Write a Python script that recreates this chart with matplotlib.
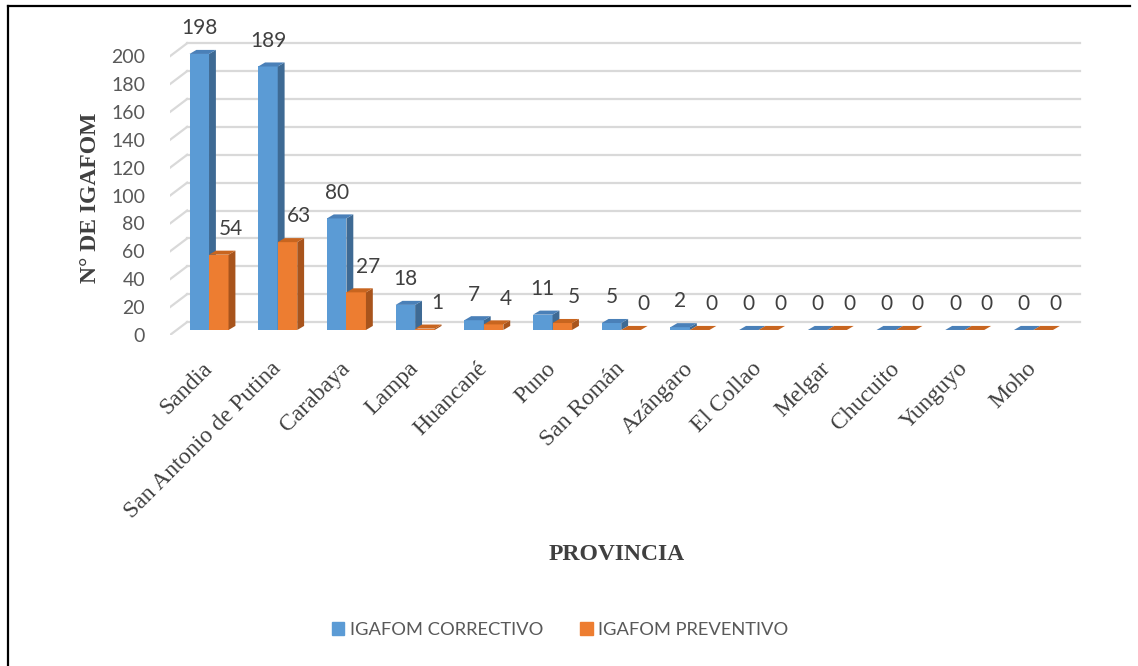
import matplotlib.pyplot as plt
from matplotlib.patches import Polygon, Patch
from matplotlib.lines import Line2D

provincias = ['Sandia', 'San Antonio de Putina', 'Carabaya', 'Lampa', 'Huancané',
              'Puno', 'San Román', 'Azángaro', 'El Collao', 'Melgar', 'Chucuito',
              'Yunguyo', 'Moho']
correctivo = [198, 189, 80, 18, 7, 11, 5, 2, 0, 0, 0, 0, 0]
preventivo = [54, 63, 27, 1, 4, 5, 0, 0, 0, 0, 0, 0, 0]
yticks = list(range(0, 201, 20))

# colores (front, lado, tapa)
azul = ('#5b9bd5', '#3e6a94', '#4a80b8')
naranja = ('#ed7d31', '#a8541c', '#c8651f')

W = 0.284        # ancho de barra
BAR_DY = 3.6     # profundidad de la cara frontal
SIDE_DX = 0.10   # lado 3D
TOP_DY = 2.9
WALL_DX = 0.25   # pared del fondo
WALL_DY = 9.3

fig = plt.figure(figsize=(11.38, 6.66), dpi=100)
ax = fig.add_axes([170 / 1138, 1 - 335 / 666, (1085 - 170) / 1138, (335 - 28.3) / 666])
ax.set_xlim(-0.568, 12.75)
ax.set_ylim(0, 220)
for s in ax.spines.values():
    s.set_visible(False)

# rejilla de la pared del fondo
x0, x1 = ax.get_xlim()[0], 12.68
for v in yticks:
    ax.plot([x0 + WALL_DX, x1], [v + WALL_DY, v + WALL_DY], color='#d9d9d9', lw=1.6, zorder=1)
    ax.plot([x0, x0 + WALL_DX], [v, v + WALL_DY], color='#d9d9d9', lw=1.6, zorder=1)


def barra3d(xl, val, cols):
    xr = xl + W
    b, t = BAR_DY, BAR_DY + val
    ax.bar(xl, val, width=W, bottom=b, align='edge', color=cols[0], zorder=3)
    ax.add_patch(Polygon([(xr, b), (xr + SIDE_DX, b + TOP_DY), (xr + SIDE_DX, t + TOP_DY), (xr, t)],
                         closed=True, facecolor=cols[1], edgecolor='none', zorder=3))
    ax.add_patch(Polygon([(xl, t), (xl + SIDE_DX, t + TOP_DY), (xr + SIDE_DX, t + TOP_DY), (xr, t)],
                         closed=True, facecolor=cols[2], edgecolor='none', zorder=3))


for i in range(len(provincias)):
    barra3d(i - W, correctivo[i], azul)
    barra3d(i, preventivo[i], naranja)
    ax.annotate(str(correctivo[i]), (i - W / 2, correctivo[i] + BAR_DY), xytext=(0, 18.5),
                textcoords='offset points', ha='center', va='center',
                fontsize=15, family='Lato', color='#404040', zorder=5)
    ax.annotate(str(preventivo[i]), (i + W / 2, preventivo[i] + BAR_DY), xytext=(8.6, 18.5),
                textcoords='offset points', ha='center', va='center',
                fontsize=15, family='Lato', color='#404040', zorder=5)

ax.set_yticks(yticks)
ax.set_yticklabels([str(v) for v in yticks], family='Lato', fontsize=14, color='#595959')
ax.tick_params(axis='y', length=0, pad=18)

ax.set_xticks(range(len(provincias)))
ax.set_xticklabels(provincias, rotation=45, ha='right', va='center', rotation_mode='anchor',
                   family='Liberation Serif', fontsize=17, color='#404040')
ax.tick_params(axis='x', length=0, pad=22)

fig.text(90 / 1138, 1 - 198 / 666, 'N° DE IGAFOM', rotation=90, ha='center', va='center',
         family='Liberation Serif', fontweight='bold', fontsize=17, color='#404040')
fig.text(617 / 1138, 1 - 555 / 666, 'PROVINCIA', ha='center', va='center',
         family='Liberation Serif', fontweight='bold', fontsize=17, color='#404040')

handles = [Patch(color=azul[0], label='IGAFOM CORRECTIVO'),
           Patch(color=naranja[0], label='IGAFOM PREVENTIVO')]
fig.legend(handles=handles, loc='center', bbox_to_anchor=(560 / 1138, 1 - 630 / 666), ncol=2,
           frameon=False, prop={'family': 'Lato', 'size': 13.2}, labelcolor='#595959',
           handlelength=0.7, handleheight=0.7, handletextpad=0.3, columnspacing=2.0)

# marco (solo arriba e izquierda visibles)
fig.add_artist(Line2D([8 / 1138, 1130 / 1138], [1 - 6 / 666, 1 - 6 / 666], color='black', lw=1.6))
fig.add_artist(Line2D([8 / 1138, 8 / 1138], [0, 1 - 6 / 666], color='black', lw=1.6))

fig.savefig('out.png', dpi=100)
